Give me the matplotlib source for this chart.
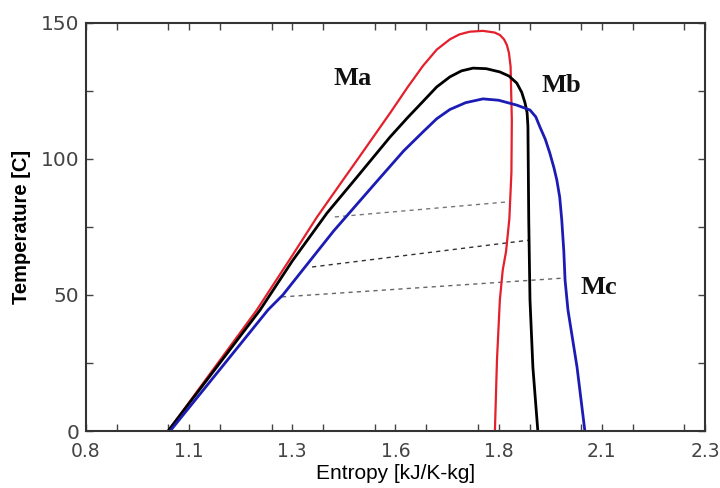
import numpy as np
import matplotlib
matplotlib.use("Agg")
import matplotlib.pyplot as plt
from matplotlib.ticker import MultipleLocator, FixedLocator, FixedFormatter

# Ma (red)
ma_s = [0.999, 1.214, 1.300, 1.360, 1.423, 1.457, 1.537, 1.580, 1.617, 1.650, 1.682,
        1.705, 1.730, 1.762, 1.790, 1.803, 1.813, 1.820, 1.825, 1.829, 1.832, 1.831,
        1.826, 1.818, 1.810, 1.803, 1.796, 1.791]
ma_t = [0.0, 44.5, 64.5, 78.7, 92.3, 99.6, 116.9, 126.5, 134.3, 140.2, 144.0,
        145.8, 146.8, 147.1, 146.5, 145.6, 144.0, 141.9, 139.0, 134.0, 114.3, 95.0,
        78.0, 66.0, 59.2, 48.2, 26.1, 0.0]

# Mb (black)
mb_s = [0.999, 1.222, 1.300, 1.384, 1.457, 1.537, 1.580, 1.617, 1.650, 1.682, 1.710,
        1.738, 1.770, 1.803, 1.825, 1.844, 1.856, 1.864, 1.869, 1.871, 1.873, 1.876,
        1.883, 1.895]
mb_t = [0.0, 44.5, 62.5, 80.1, 93.4, 108.1, 115.3, 121.2, 126.5, 130.2, 132.4,
        133.4, 133.2, 132.0, 130.5, 127.9, 124.5, 120.6, 117.0, 112.0, 77.6, 48.2,
        23.5, 0.0]

# Mc (blue)
mc_s = [1.004, 1.241, 1.277, 1.400, 1.508, 1.570, 1.617, 1.650, 1.682, 1.720, 1.762,
        1.800, 1.844, 1.876, 1.890, 1.900, 1.913, 1.924, 1.934, 1.941, 1.948, 1.953,
        1.958, 1.961, 1.968, 1.990, 2.009]
mc_t = [0.0, 44.5, 50.0, 73.5, 92.3, 103.0, 110.0, 114.8, 118.2, 120.7, 122.1,
        121.6, 119.8, 118.0, 115.5, 111.8, 107.3, 102.2, 96.8, 92.3, 86.0, 77.6,
        66.0, 55.5, 44.5, 23.5, 0.0]

# dashed tie lines (start, end)
tie_s = [(1.403, 1.820), (1.348, 1.876), (1.275, 1.956)]
tie_t = [(78.7, 84.2), (60.3, 70.2), (49.3, 56.2)]
tie_col = ['#777777', '#333333', '#666666']

labels = ['Ma', 'Mb', 'Mc']
label_s = [1.445, 1.953, 2.043]
label_t = [129.5, 127.2, 52.9]

xticks = [0.8, 1.05, 1.3, 1.55, 1.8, 2.05, 2.3]
xtick_labels = ['0.8', '1.1', '1.3', '1.6', '1.8', '2.1', '2.3']
yticks = [0, 50, 100, 150]

fig = plt.figure(figsize=(7.2, 4.88), dpi=100)
ax = fig.add_axes([0.1194, 0.1168, 0.8597, 0.8361])

for (s0, s1), (t0, t1), c in zip(tie_s, tie_t, tie_col):
    ax.plot([s0, s1], [t0, t1], ls=(0, (3, 3)), color=c, lw=1.0)

ax.plot(ma_s, ma_t, color='#e3202b', lw=1.6)
ax.plot(mb_s, mb_t, color='black', lw=2.0)
ax.plot(mc_s, mc_t, color='#1c1cb5', lw=2.0)

for txt, s, t in zip(labels, label_s, label_t):
    ax.text(s, t, txt, ha='center', va='center', fontsize=19, fontweight='bold',
            family='Liberation Serif', color='#111111')

ax.set_xlim(0.8, 2.3)
ax.set_ylim(0, 150)
ax.xaxis.set_major_locator(FixedLocator(xticks))
ax.xaxis.set_major_formatter(FixedFormatter(xtick_labels))
ax.xaxis.set_minor_locator(MultipleLocator(0.125))
ax.yaxis.set_major_locator(FixedLocator(yticks))
ax.yaxis.set_minor_locator(MultipleLocator(25))

ax.tick_params(which='both', direction='in', top=True, right=True, length=5,
               width=1.0, color='#444444')
ax.tick_params(axis='x', labelsize=13.5, labelcolor='#444444', pad=8)
ax.tick_params(axis='y', labelsize=14.5, labelcolor='#444444', pad=5)
for sp in ax.spines.values():
    sp.set_linewidth(1.5)
    sp.set_color('#333333')

ax.set_xlabel('Entropy [kJ/K-kg]', fontsize=15, family='Liberation Sans', labelpad=2)
ax.set_ylabel('Temperature [C]', fontsize=14.5, fontweight='bold',
              family='Liberation Sans', labelpad=7)

fig.savefig('out.png', dpi=100)
